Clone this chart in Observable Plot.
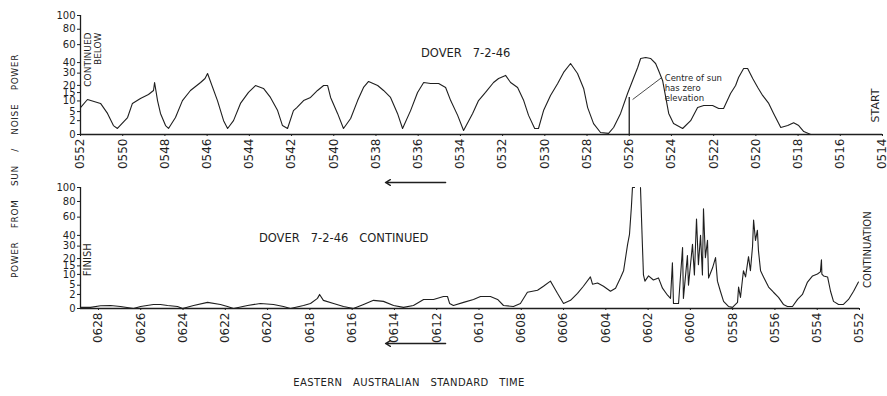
<!DOCTYPE html>
<html>
<head>
<meta charset="utf-8">
<script src="https://cdn.jsdelivr.net/npm/d3@7"></script>
<script src="https://cdn.jsdelivr.net/npm/@observablehq/plot@0.6"></script>
<style>
  body { margin: 0; background: #fff; }
  #wrap { position: relative; width: 887px; height: 396px; font-family: "DejaVu Sans", sans-serif; color: #222; overflow: hidden; }
  #top, #bottom { position: absolute; left: 0; }
  #top { top: 0; }
  #bottom { top: 176px; }
  #ylab { position: absolute; left: 15px; top: 166px; transform: translate(-50%, -50%) rotate(-90deg);
          font-size: 9px; letter-spacing: 0.6px; word-spacing: 10px; white-space: nowrap; }
  #xlab { position: absolute; left: 409px; top: 382px; transform: translate(-50%, -50%);
          font-size: 10px; letter-spacing: 0.4px; word-spacing: 7px; white-space: nowrap; }
</style>
</head>
<body>
<div id="wrap">
  <div id="top"></div>
  <div id="bottom"></div>
  <div id="ylab">POWER FROM SUN / NOISE POWER</div>
  <div id="xlab">EASTERN AUSTRALIAN STANDARD TIME</div>
</div>
<script>
// ---- tick labels ----
const topTickLabels = ["0552","0550","0548","0546","0544","0542","0540","0538","0536","0534",
  "0532","0530","0528","0526","0524","0522","0520","0518","0516","0514"];
const bottomTickLabels = ["0628","0626","0624","0622","0620","0618","0616","0614","0612","0610",
  "0608","0606","0604","0602","0600","0558","0556","0554","0552"];
const powerTicks = [0, 2, 5, 10, 15, 20, 30, 40, 60, 80, 100];

// ---- series: time in minutes after 05:00, power ratio ----
const topTime = [52.00,51.67,51.05,50.72,50.44,50.25,49.77,49.54,49.16,48.78,
  48.54,48.49,48.35,48.21,47.97,47.83,47.50,47.17,46.79,46.31,
  46.10,45.98,45.51,45.22,45.03,44.75,44.42,44.04,43.71,43.33,
  43.00,42.66,42.43,42.19,41.91,41.75,41.43,41.10,40.77,40.48,
  40.29,40.15,39.82,39.54,39.20,38.87,38.59,38.35,37.92,37.64,
  37.31,36.98,36.74,36.36,36.03,35.74,35.41,35.03,34.70,34.46,
  34.13,33.85,33.42,33.14,32.81,32.43,32.19,31.86,31.62,31.29,
  31.00,30.77,30.48,30.30,30.06,29.73,29.39,29.11,28.78,28.45,
  28.16,27.97,27.69,27.36,26.98,26.74,26.41,26.08,25.84,25.60,
  25.46,25.22,24.99,24.75,24.61,24.42,24.27,24.13,23.90,23.47,
  23.09,22.76,22.47,22.05,21.76,21.53,21.20,20.96,20.82,20.58,
  20.39,20.15,19.91,19.68,19.39,19.16,18.82,18.49,18.21,17.97,
  17.73,17.40,14.00];
const topPower = [6.7,10.8,8.7,4.3,0.9,0.44,2.9,8.7,11.4,13.8,
  16.4,22.2,10.2,4.3,0.9,0.44,2.9,10.2,16.4,22.2,
  25.4,29.7,10.2,2.0,0.44,2.0,8.7,15.1,19.9,17.8,
  12.0,5.4,0.9,0.44,5.4,6.7,10.2,12.0,16.4,19.9,
  19.9,12.0,4.3,0.44,2.6,10.2,18.5,23.0,19.9,16.4,
  12.0,4.3,0.44,5.4,15.1,22.2,21.4,21.4,18.5,10.2,
  3.6,0.21,4.3,10.2,15.1,22.2,25.4,28.0,22.2,18.5,
  10.2,3.6,0.44,0.44,5.4,13.2,21.4,30.6,39.1,29.7,
  17.8,6.7,1.3,0.06,0.02,0.58,4.3,14.4,23.8,35.2,
  44.3,45.3,44.3,39.1,32.4,23.8,12.0,4.3,1.3,0.44,
  2.0,6.7,7.7,7.7,6.3,6.3,14.4,19.9,26.2,34.3,
  34.3,25.4,18.5,13.2,8.7,4.3,0.58,0.9,1.5,0.9,
  0.12,0,0];

const bottomTime = [88.85,88.38,87.90,87.43,86.96,86.34,86.01,85.40,85.07,84.73,
  84.26,84.02,83.50,82.84,82.23,81.90,81.61,80.95,80.34,79.72,
  79.25,78.92,78.30,77.97,77.64,77.54,77.36,76.88,76.41,75.94,
  75.46,74.99,74.52,74.04,73.57,73.10,72.62,72.15,71.68,71.49,
  71.39,71.21,70.73,70.26,69.93,69.46,69.12,68.84,68.37,68.04,
  67.71,67.23,66.95,66.62,66.48,66.29,66.00,65.67,65.34,65.06,
  64.73,64.63,64.39,64.11,63.78,63.54,63.31,63.16,62.97,62.88,
  62.79,62.74,62.64,62.50,62.36,62.27,62.22,62.15,61.98,61.75,
  61.51,61.32,61.08,60.94,60.85,60.80,60.56,60.37,60.33,60.14,
  60.09,59.90,59.81,59.71,59.62,59.52,59.43,59.38,59.29,59.19,
  59.14,58.95,58.81,58.72,58.58,58.43,58.20,58.01,57.77,57.72,
  57.63,57.49,57.39,57.25,57.16,57.06,57.01,56.92,56.83,56.78,
  56.68,56.54,56.30,56.07,55.83,55.60,55.41,55.17,54.93,54.70,
  54.46,54.22,53.99,53.85,53.80,53.78,53.70,53.51,53.37,53.23,
  52.99,52.76,52.52,52.28,52.05];
const bottomPower = [0.02,0.02,0.1,0.12,0.06,0,0.06,0.21,0.21,0.12,
  0.06,0,0.12,0.44,0.21,0.06,0,0.12,0.31,0.21,
  0.06,0,0.12,0.31,1.1,2.0,0.74,0.31,0.06,0,
  0.21,0.74,0.58,0.12,0.02,0.12,0.9,0.9,1.5,1.5,
  0.31,0.12,0.44,0.9,1.5,1.5,0.9,0.12,0.06,0.31,
  2.6,3.2,4.6,6.7,4.6,2.3,0.31,0.74,2.3,4.6,
  8.7,5.4,5.9,4.6,2.9,3.9,8.2,12.0,31.5,41.1,
  72.9,100,100,null,100,31.5,9.7,6.7,9.2,7.2,
  8.2,3.9,1.8,1.1,17.1,0.31,0.31,28.8,1.1,22.2,
  5.0,31.5,9.7,57.8,15.7,40.1,9.7,70.3,20.7,35.2,
  8.2,13.8,20.7,6.7,2.9,0.58,0.06,0.02,0.44,4.3,
  1.3,12.0,8.7,21.4,12.0,29.7,56.6,35.2,45.3,26.2,
  12.0,8.7,4.3,2.6,1.3,0.21,0.06,0.06,0.9,2.0,
  6.3,9.2,10.2,11.4,19.2,10.2,9.2,8.7,2.9,0.58,
  0.21,0.21,0.9,2.9,6.3];

// ---- annotations (data units: minutes after 05:00, power) ----
const topTitle = [{t: 33.75, v: 49.5, text: "DOVER   7-2-46"}];
const bottomTitle = [{t: 76.4, v: 37, text: "DOVER   7-2-46   CONTINUED"}];
const sunMarker = [{t: 26.0, v: 12.0}];
const sunPointer = [{t1: 25.84, v1: 10.8, t2: 24.46, v2: 26.2}];
const sunNote = [{t: 24.32, v: 18.5, text: "Centre of sun\nhas zero\nelevation"}];
const startNote = [{t: 14.32, v: 7.7, text: "START"}];
const contBelowNote = [{t: 51.81, v: 75.6, text: "CONTINUED\nBELOW"}];
const finishNote = [{t: 88.52, v: 19.2, text: "FINISH"}];
const contNote = [{t: 51.62, v: 27, text: "CONTINUATION"}];
const topArrow = [{t1: 34.70, t2: 37.55, v: 0}];
const bottomArrow = [{t1: 71.58, t2: 74.42, v: 0}];

// ---- build ----
const toMin = s => (+s.slice(0, 2) - 5) * 60 + +s.slice(2);
const labelMap = new Map([...topTickLabels, ...bottomTickLabels].map(s => [toMin(s), s]));
const fmt = d => labelMap.get(d);
const topData = topTime.map((t, i) => ({t, v: topPower[i]}));
const bottomData = bottomTime.map((t, i) => ({t, v: bottomPower[i]}));

const ink = "#1f1f1f";
const style = {background: "transparent", fontFamily: "'DejaVu Sans', sans-serif", color: ink, overflow: "visible"};
const yOpts = {type: "pow", exponent: 0.55, domain: [0, 100]};

const topPlot = Plot.plot({
  width: 887, height: 190,
  marginLeft: 80, marginRight: 5, marginTop: 15, marginBottom: 56,
  style,
  x: {domain: [52, 14]},
  y: yOpts,
  marks: [
    Plot.axisX(topTickLabels.map(toMin), {tickFormat: fmt, tickRotate: -90, tickSize: 2, tickPadding: 2, fontSize: 12, label: null, stroke: ink}),
    Plot.axisY(powerTicks, {tickSize: 3, tickPadding: 2, fontSize: 10, label: null, stroke: ink}),
    Plot.ruleY([0], {stroke: ink, strokeWidth: 1.6}),
    Plot.ruleX([52], {stroke: ink, strokeWidth: 1.3}),
    Plot.line(topData, {x: "t", y: "v", stroke: ink, strokeWidth: 1.1}),
    Plot.ruleX(sunMarker, {x: "t", y1: 0, y2: "v", stroke: ink, strokeWidth: 1.3}),
    Plot.link(sunPointer, {x1: "t1", y1: "v1", x2: "t2", y2: "v2", stroke: ink, strokeWidth: 0.8}),
    Plot.text(sunNote, {x: "t", y: "v", text: "text", textAnchor: "start", lineAnchor: "middle", fontSize: 8.5, lineHeight: 1.2, fill: ink}),
    Plot.text(topTitle, {x: "t", y: "v", text: "text", fontSize: 11.5, fill: ink}),
    Plot.text(startNote, {x: "t", y: "v", text: "text", rotate: -90, fontSize: 11, fill: ink}),
    Plot.text(contBelowNote, {x: "t", y: "v", text: "text", rotate: -90, textAnchor: "end", lineAnchor: "top", fontSize: 9, lineHeight: 1.05, fill: ink}),
    Plot.arrow(topArrow, {x1: "t1", x2: "t2", y1: "v", y2: "v", dy: 48, stroke: ink, strokeWidth: 1.4, headLength: 6})
  ]
});
document.getElementById("top").append(topPlot);

const bottomPlot = Plot.plot({
  width: 887, height: 180,
  marginLeft: 80, marginRight: 28, marginTop: 11, marginBottom: 48,
  style,
  x: {domain: [88.85, 52]},
  y: yOpts,
  marks: [
    Plot.axisX(bottomTickLabels.map(toMin), {tickFormat: fmt, tickRotate: -90, tickSize: 2, tickPadding: 2, fontSize: 12, label: null, stroke: ink}),
    Plot.axisY(powerTicks, {tickSize: 3, tickPadding: 2, fontSize: 10, label: null, stroke: ink}),
    Plot.ruleY([0], {stroke: ink, strokeWidth: 1.6}),
    Plot.ruleX([88.85], {stroke: ink, strokeWidth: 1.3}),
    Plot.line(bottomData, {x: "t", y: "v", stroke: ink, strokeWidth: 1.1}),
    Plot.text(bottomTitle, {x: "t", y: "v", text: "text", fontSize: 11.5, fill: ink}),
    Plot.text(finishNote, {x: "t", y: "v", text: "text", rotate: -90, fontSize: 10, fill: ink}),
    Plot.text(contNote, {x: "t", y: "v", text: "text", rotate: -90, fontSize: 10, fill: ink}),
    Plot.arrow(bottomArrow, {x1: "t1", x2: "t2", y1: "v", y2: "v", dy: 35, stroke: ink, strokeWidth: 1.4, headLength: 6})
  ]
});
document.getElementById("bottom").append(bottomPlot);
</script>
</body>
</html>
